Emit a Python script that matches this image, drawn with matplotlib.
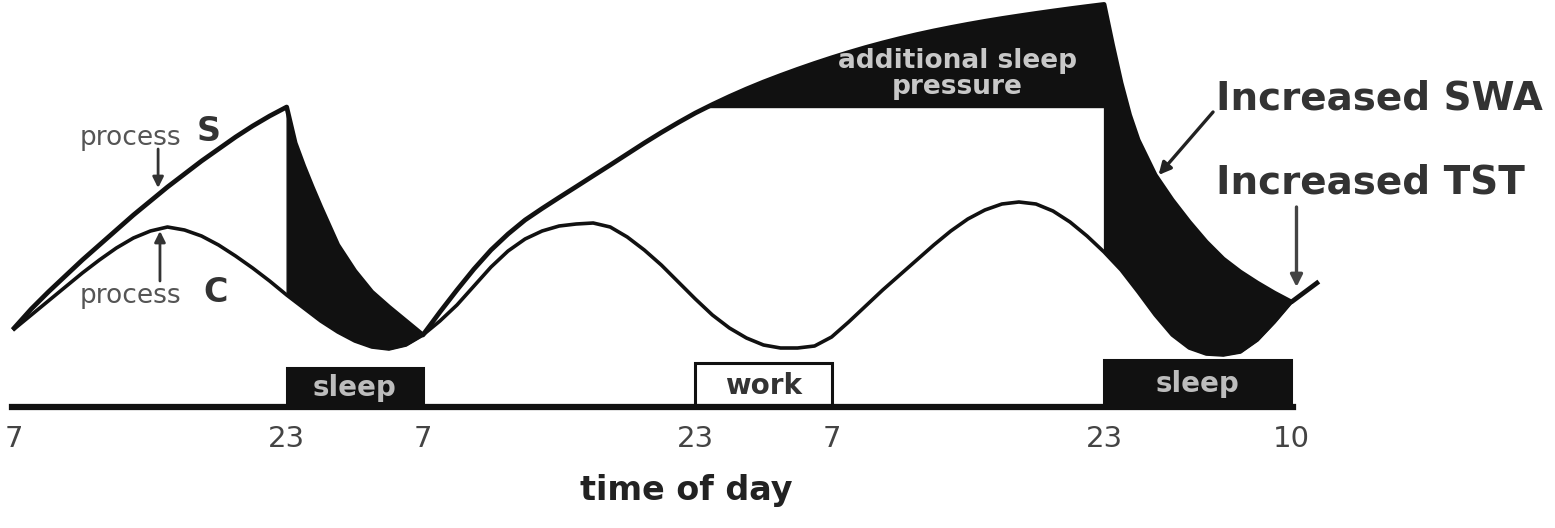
import numpy as np
import matplotlib
matplotlib.use("Agg")
import matplotlib.pyplot as plt

# hours since 07:00 on day 1, levels measured up from the time axis
tick_hours = [0, 16, 24, 40, 48, 64, 75]
tick_labels = ['7', '23', '7', '23', '7', '23', '10']

c_hours = np.arange(0, 76)
c_level = np.array([78, 92, 106, 120, 134, 147, 159, 169, 176, 180,
                    177, 171, 162, 151, 139, 126, 112, 99, 86, 75,
                    66, 60, 58, 62, 72, 86, 102, 121, 140, 156,
                    168, 176, 181, 183, 184, 180, 170, 157, 142, 125,
                    108, 92, 79, 69, 62, 59, 59, 61, 70, 85,
                    101, 117, 132, 147, 162, 176, 188, 197, 203, 205,
                    203, 196, 185, 171, 155, 137, 115, 92, 72, 59,
                    53, 52, 55, 67, 85, 105])

# process S, piece by piece
wake1_hours = list(range(0, 17))
wake1 = [79, 98, 115, 131, 147, 162, 177, 192, 206, 220, 233, 246, 258,
         270, 281, 291, 300]
sleep1_hours = [16, 16.5, 17, 17.5, 18, 19, 20, 21, 22, 23, 24]
sleep1 = [300, 264, 241, 220, 200, 162, 136, 115, 100, 86, 72]
wake2_hours = list(range(24, 65))
wake2 = [72, 95, 117, 138, 157, 173, 187, 198.5, 209.5, 220.3,
         231.2, 242, 253, 264, 274.5, 284.5, 294, 302.5, 310.5, 318,
         325, 331.5, 337.7, 343.6, 349.2, 354.5, 359.5, 364.1, 368.4, 372.4,
         376.1, 379.5, 382.7, 385.7, 388.5, 391.1, 393.6, 396, 398.3, 400.5,
         402.6]
sleep2_hours = [64, 64.5, 65, 65.5, 66, 67, 68, 69, 70, 71, 72, 73, 74, 75]
sleep2 = [402.6, 362, 324, 292, 267, 232, 207, 185, 165, 148, 135, 124, 114, 105]
wake3_hours = [75, 76.5]
wake3 = [105, 124]

# schedule bars under the curves
box_start = [16, 40, 64]
box_end = [24, 48, 75]
box_labels = ['sleep', 'work', 'sleep']

ink = '#111111'

fig = plt.figure(figsize=(15.55, 5.28), dpi=100)
ax = fig.add_axes([0, 0, 1, 1])
ax.set_xlim(-0.834, 90.48)
ax.set_ylim(-121, 407)

s_hours = np.array(wake1_hours + sleep1_hours[1:] + wake2_hours[1:]
                   + sleep2_hours[1:] + wake3_hours[1:], dtype=float)
s_level = np.array(wake1 + sleep1[1:] + wake2[1:] + sleep2[1:] + wake3[1:],
                   dtype=float)

# black areas: sleep decay above process C
for hh, ss in [(sleep1_hours, sleep1), (sleep2_hours, sleep2)]:
    ax.fill_between(hh, ss, np.interp(hh, c_hours, c_level),
                    color=ink, lw=1, zorder=2)

# additional sleep pressure above the normal bedtime level
normal_peak = wake1[-1]
w2h = np.array(wake2_hours, dtype=float)
w2 = np.array(wake2, dtype=float)
ax.fill_between(w2h, w2, normal_peak, where=w2 >= normal_peak,
                interpolate=True, color=ink, lw=1, zorder=2)

ax.plot(c_hours, c_level, color=ink, lw=2.6, zorder=3,
        solid_joinstyle='round')
ax.plot(s_hours, s_level, color=ink, lw=3.4, zorder=3,
        solid_joinstyle='round')

# schedule boxes
box_heights = [39, 44, 47]
box_faces = [ink, 'white', ink]
ax.bar(box_start, box_heights, width=np.subtract(box_end, box_start),
       align='edge', color=box_faces, edgecolor=ink, linewidth=2.2, zorder=2)
box_text = ['#bdbdbd', '#333333', '#bdbdbd']
for x0, x1, lab, h, tc in zip(box_start, box_end, box_labels, box_heights, box_text):
    ax.text((x0 + x1) / 2, h / 2 - 1, lab, ha='center', va='center',
            fontsize=20, fontweight='bold', color=tc, zorder=4)

# time axis
for side in ['top', 'left', 'right']:
    ax.spines[side].set_visible(False)
ax.spines['bottom'].set_position(('data', 0))
ax.spines['bottom'].set_bounds(-0.1, 75.1)
ax.spines['bottom'].set_linewidth(4.5)
ax.spines['bottom'].set_color(ink)
ax.set_yticks([])
ax.set_xticks(tick_hours, tick_labels)
ax.tick_params(axis='x', length=0, pad=13, labelsize=21, labelcolor='#444444')
ax.set_xlabel('time of day', fontsize=24, fontweight='bold', color='#222222')
ax.xaxis.set_label_coords(0.4415, 0.102)

# annotations
ax.text(3.87, 262, 'process', fontsize=19, color='#555555')
ax.text(10.7, 266, 'S', fontsize=24, fontweight='bold', color='#333333')
ax.annotate('', xy=(8.45, 219), xytext=(8.45, 258),
            arrowprops=dict(arrowstyle='-|>', color='#333333', lw=2,
                            mutation_scale=16, shrinkA=0, shrinkB=0))
ax.text(3.87, 104, 'process', fontsize=19, color='#555555')
ax.text(11.1, 105, 'C', fontsize=24, fontweight='bold', color='#333333')
ax.annotate('', xy=(8.56, 176), xytext=(8.56, 126),
            arrowprops=dict(arrowstyle='-|>', color='#333333', lw=2,
                            mutation_scale=16, shrinkA=0, shrinkB=0))

ax.text(55.4, 333, 'additional sleep\npressure', ha='center', va='center',
        fontsize=19, fontweight='bold', color='#c8c8c8', linespacing=1.0,
        zorder=4)

ax.text(70.6, 297, 'Increased SWA', fontsize=28, fontweight='bold',
        color='#333333')
ax.text(70.6, 214, 'Increased TST', fontsize=28, fontweight='bold',
        color='#333333')
ax.annotate('', xy=(67.2, 232), xytext=(70.4, 295),
            arrowprops=dict(arrowstyle='-|>', color='#222222', lw=2.4,
                            mutation_scale=18, shrinkA=0, shrinkB=0))
ax.annotate('', xy=(75.3, 120), xytext=(75.3, 200),
            arrowprops=dict(arrowstyle='-|>', color='#444444', lw=2.4,
                            mutation_scale=18, shrinkA=0, shrinkB=0))

fig.savefig('out.png', dpi=100)
